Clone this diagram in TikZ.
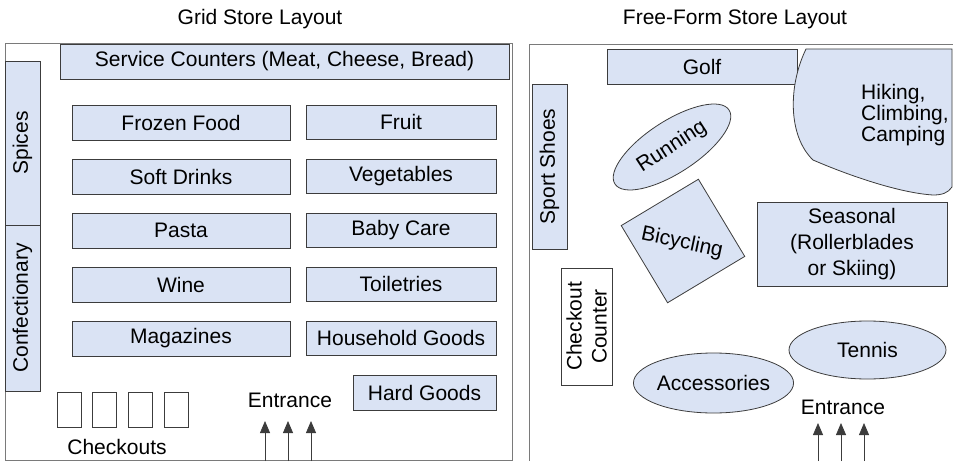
\documentclass[tikz,border=0pt]{standalone}
\usepackage{fontspec}
\setmainfont{Liberation Sans}
\usetikzlibrary{arrows.meta,shapes.geometric}
\definecolor{aislefill}{HTML}{DAE3F4}
\definecolor{edge}{HTML}{3C3C3C}
\definecolor{wallgray}{HTML}{7A7A7A}

\begin{document}
\begin{tikzpicture}[x=1pt,y=1pt,
 font=\fontsize{21}{25}\selectfont,
 tint/.style={draw=edge,fill=aislefill,line width=0.8pt},
 aisle/.style={tint,inner sep=0pt,minimum height=35,align=center},
 till/.style={draw=edge,fill=white,line width=0.8pt,inner sep=0pt,align=center},
 zone/.style={aisle,ellipse},
 wall/.style={draw=wallgray,line width=1pt},
 arr/.style={-{Triangle[length=12pt,width=10pt]},draw=edge,line width=0.8pt}
]
\useasboundingbox (0,0) rectangle (953,461);
% titles
\node (gtitle) at (260,442) {Grid Store Layout};
\node (ftitle) at (735,442) {Free-Form Store Layout};
% walls
\draw[wall] (5,1) rectangle (512,417);
\draw[wall] (953,416) -- (529,416) -- (529,0);

% grid store
\node[aisle,minimum width=449] (service) at (284.5,399.5) {Service Counters (Meat, Cheese, Bread)};
\node[aisle,minimum width=164,rotate=90] (spices) at (22.5,318) {Spices};
\node[aisle,minimum width=166,rotate=90] (confect) at (22.5,153) {Confectionary};
\foreach \name [count=\i from 0] in {Frozen Food,Soft Drinks,Pasta,Wine,Magazines}
  \node[aisle,minimum width=218] (left\i) at (181,{338.5-54*\i}) {\name};
\foreach \name [count=\i from 0] in {Fruit,Vegetables,Baby Care,Toiletries,Household Goods}
  \node[aisle,minimum width=190,minimum height=34] (right\i) at (401,{339-54*\i}) {\name};
\node[aisle,minimum width=143] (hard) at (424.5,68.5) {Hard Goods};
\foreach \i in {0,...,3}
  \node[till,minimum width=24,minimum height=35] (till\i) at ({69+35.7*\i},51.5) {};
\node (checkouts) at (117,14) {Checkouts};
\node (gentrance) at (290,61) {Entrance};
\foreach \x [count=\k] in {265,288,311} {
  \coordinate (gin\k) at (\x,0);
  \coordinate (gtip\k) at (\x,40);
  \draw[arr] (gin\k) -- (gtip\k);
}

% free-form store
\node[aisle,minimum width=190] (golf) at (702,394.5) {Golf};
\node[aisle,minimum width=165,rotate=90] (shoes) at (549.5,294.5) {Sport Shoes};
\path[tint] (806,412) .. controls (788,375) and (788,325) .. (813,301)
  .. controls (850,285) and (900,268) .. (933,266)
  .. controls (942,266) and (948,268) .. (952,274) -- (952,412) -- cycle;
\node[anchor=west,inner sep=0pt,align=left,font=\fontsize{21}{21}\selectfont] (hiking) at (861,346) {Hiking,\\Climbing,\\Camping};
\node[zone,minimum width=136,minimum height=52,rotate=33] (running) at (672,314) {Running};
\node[aisle,minimum size=90,rotate=31] (bike) at (683,220) {};
\node[rotate=-12] (biketext) at (682,218) {Bicycling};
\node[aisle,minimum width=190,minimum height=84,font=\fontsize{21}{26}\selectfont] (seasonal) at (852,217) {Seasonal\\(Rollerblades\\or Skiing)};
\node[till,minimum width=117,minimum height=51,rotate=90] (counter) at (586.5,134.5) {Checkout\\Counter};
\node[zone,minimum width=157,minimum height=58] (tennis) at (867.5,111) {Tennis};
\node[zone,minimum width=137,minimum height=60] (access) at (713.5,78) {Accessories};
\node (fentrance) at (843,54) {Entrance};
\foreach \x [count=\k] in {818,841,864} {
  \coordinate (fin\k) at (\x,0);
  \coordinate (ftip\k) at (\x,38);
  \draw[arr] (fin\k) -- (ftip\k);
}
\end{tikzpicture}
\end{document}
